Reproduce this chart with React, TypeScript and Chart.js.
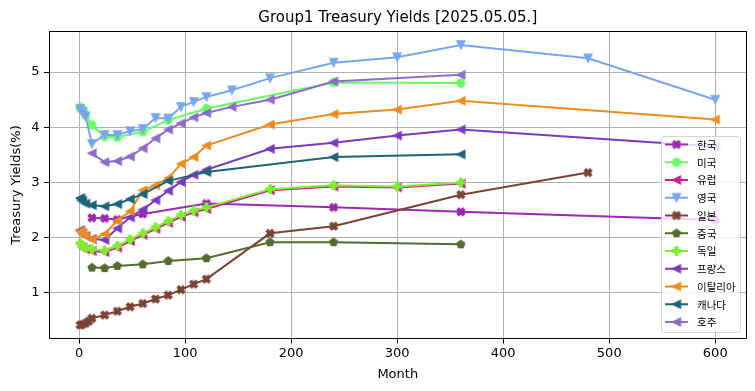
import React, { useEffect, useRef } from 'react';
import { Chart, registerables } from 'chart.js';

Chart.register(...registerables);

const TITLE = 'Group1 Treasury Yields [2025.05.05.]';
const X_LABEL = 'Month';
const Y_LABEL = 'Treasury Yields(%)';
const X_STEP = 100;
const Y_STEP = 1;

// 한국
const KR_M = [12, 24, 36, 60, 120, 240, 360, 600];
const KR_Y = [2.36, 2.35, 2.33, 2.43, 2.62, 2.55, 2.47, 2.32];
// 미국
const US_M = [1, 2, 3, 4, 6, 12, 24, 36, 60, 84, 120, 240, 360];
const US_Y = [4.36, 4.33, 4.32, 4.3, 4.22, 4.04, 3.83, 3.82, 3.92, 4.13, 4.34, 4.81, 4.8];
// 유럽
const EU_M = [3, 6, 12, 24, 36, 48, 60, 72, 84, 96, 108, 120, 180, 240, 300, 360];
const EU_Y = [1.83, 1.79, 1.76, 1.74, 1.82, 1.94, 2.05, 2.16, 2.27, 2.38, 2.46, 2.52, 2.86, 2.93, 2.91, 2.98];
// 영국
const UK_M = [1, 3, 6, 12, 24, 36, 48, 60, 72, 84, 96, 108, 120, 144, 180, 240, 300, 360, 480, 600];
const UK_Y = [4.33, 4.28, 4.2, 3.7, 3.86, 3.86, 3.93, 3.97, 4.17, 4.16, 4.37, 4.46, 4.55, 4.67, 4.89, 5.17, 5.27, 5.49, 5.25, 4.5];
// 일본
const JP_M = [1, 3, 6, 9, 12, 24, 36, 48, 60, 72, 84, 96, 108, 120, 180, 240, 360, 480];
const JP_Y = [0.42, 0.43, 0.45, 0.49, 0.54, 0.6, 0.67, 0.75, 0.81, 0.89, 0.96, 1.06, 1.16, 1.25, 2.08, 2.21, 2.78, 3.18];
// 중국
const CN_M = [12, 24, 36, 60, 84, 120, 180, 240, 360];
const CN_Y = [1.46, 1.45, 1.49, 1.52, 1.58, 1.63, 1.92, 1.92, 1.88];
// 독일
const DE_M = [1, 3, 6, 12, 24, 36, 48, 60, 72, 84, 96, 108, 120, 180, 240, 300, 360];
const DE_Y = [1.9, 1.86, 1.82, 1.79, 1.77, 1.85, 1.97, 2.08, 2.19, 2.3, 2.41, 2.49, 2.55, 2.88, 2.95, 2.93, 3.0];
// 프랑스
const FR_M = [1, 3, 6, 12, 24, 36, 48, 60, 72, 84, 96, 108, 120, 180, 240, 300, 360, 600];
const FR_Y = [2.14, 2.08, 2.03, 1.98, 1.96, 2.17, 2.37, 2.51, 2.68, 2.85, 3.01, 3.14, 3.23, 3.61, 3.72, 3.85, 3.96, 3.65];
// 이탈리아
const IT_M = [1, 3, 6, 12, 24, 36, 48, 60, 72, 84, 96, 108, 120, 180, 240, 300, 360, 600];
const IT_Y = [2.12, 2.08, 2.03, 1.97, 2.07, 2.31, 2.48, 2.86, 2.95, 3.08, 3.34, 3.46, 3.67, 4.05, 4.24, 4.32, 4.48, 4.14];
// 캐나다
const CA_M = [1, 2, 3, 6, 12, 24, 36, 48, 60, 84, 120, 240, 360];
const CA_Y = [2.72, 2.69, 2.66, 2.62, 2.59, 2.57, 2.61, 2.7, 2.79, 3.03, 3.19, 3.46, 3.51];
// 호주
const AU_M = [12, 24, 36, 48, 60, 72, 84, 96, 108, 120, 144, 180, 240, 360];
const AU_Y = [3.53, 3.37, 3.39, 3.47, 3.62, 3.8, 3.96, 4.07, 4.18, 4.26, 4.37, 4.5, 4.83, 4.95];

const NAMES = ['한국', '미국', '유럽', '영국', '일본', '중국', '독일', '프랑스', '이탈리아', '캐나다', '호주'];
const MONTHS = [KR_M, US_M, EU_M, UK_M, JP_M, CN_M, DE_M, FR_M, IT_M, CA_M, AU_M];
const YIELDS = [KR_Y, US_Y, EU_Y, UK_Y, JP_Y, CN_Y, DE_Y, FR_Y, IT_Y, CA_Y, AU_Y];
const COLORS = ['#9b2ab0', '#66ff66', '#c71f97', '#78a5ef', '#7c4335', '#556b2f', '#80ee30', '#7b3bbf', '#ec8c1c', '#1d6478', '#8e6cc9'];
const MARKERS = ['X', 'o', '<', 'v', 'X', 'p', 'P', '<', '<', '<', '<'];

const FONT = '"DejaVu Sans", sans-serif';
const CJK = '"Noto Sans CJK KR", "DejaVu Sans", sans-serif';
const MS = 8; // marker size px
const MEW = 1.3; // marker edge width

function makeMarker(shape: string, color: string): HTMLCanvasElement {
  const S = 16;
  const c = document.createElement('canvas');
  c.width = S;
  c.height = S;
  const ctx = c.getContext('2d')!;
  ctx.translate(S / 2, S / 2);
  ctx.fillStyle = color;
  ctx.strokeStyle = color;
  ctx.lineWidth = MEW;
  ctx.lineJoin = 'miter';
  const r = MS / 2;
  ctx.beginPath();
  const plus = [[-1, -3], [1, -3], [1, -1], [3, -1], [3, 1], [1, 1], [1, 3], [-1, 3], [-1, 1], [-3, 1], [-3, -1], [-1, -1]];
  if (shape === 'o') {
    ctx.arc(0, 0, r, 0, Math.PI * 2);
  } else if (shape === '<') {
    ctx.moveTo(-r, 0);
    ctx.lineTo(r, -r);
    ctx.lineTo(r, r);
    ctx.closePath();
  } else if (shape === 'v') {
    ctx.moveTo(0, r);
    ctx.lineTo(-r, -r);
    ctx.lineTo(r, -r);
    ctx.closePath();
  } else if (shape === 'P' || shape === 'X') {
    const a = shape === 'X' ? Math.PI / 4 : 0;
    plus.forEach(([px, py], i) => {
      const sx = (px / 6) * MS;
      const sy = (py / 6) * MS;
      const x = sx * Math.cos(a) - sy * Math.sin(a);
      const y = sx * Math.sin(a) + sy * Math.cos(a);
      if (i === 0) ctx.moveTo(x, y);
      else ctx.lineTo(x, y);
    });
    ctx.closePath();
  } else if (shape === 'p') {
    for (let i = 0; i < 5; i++) {
      const ang = -Math.PI / 2 + (i * 2 * Math.PI) / 5;
      const x = r * Math.cos(ang);
      const y = r * Math.sin(ang);
      if (i === 0) ctx.moveTo(x, y);
      else ctx.lineTo(x, y);
    }
    ctx.closePath();
  }
  ctx.fill();
  ctx.stroke();
  return c;
}

export default function App() {
  const ref = useRef<HTMLCanvasElement>(null);

  useEffect(() => {
    const canvas = ref.current!;
    const markers = MARKERS.map((m, i) => makeMarker(m, COLORS[i]));

    const allX = MONTHS.flat();
    const allY = YIELDS.flat();
    const xMin = Math.min(...allX), xMax = Math.max(...allX);
    const yMin = Math.min(...allY), yMax = Math.max(...allY);
    const xm = (xMax - xMin) * 0.05, ym = (yMax - yMin) * 0.05;

    const datasets = NAMES.map((name, i) => ({
      label: name,
      data: MONTHS[i].map((m, j) => ({ x: m, y: YIELDS[i][j] })),
      borderColor: COLORS[i],
      backgroundColor: COLORS[i],
      borderWidth: 2,
      pointStyle: markers[i] as any,
      pointRadius: 4,
      pointHoverRadius: 4,
      tension: 0,
      fill: false,
      order: -i,
    }));

    const framePlugin = {
      id: 'frame',
      afterDatasetsDraw(chart: any) {
        const { ctx, chartArea: a } = chart;
        ctx.save();
        ctx.strokeStyle = '#000';
        ctx.lineWidth = 1;
        const l = Math.round(a.left) + 0.5, t = Math.round(a.top) + 0.5;
        const r = Math.round(a.right) - 0.5, b = Math.round(a.bottom) - 0.5;
        ctx.strokeRect(l, t, r - l, b - t);
        ctx.restore();
      },
    };

    const overlayPlugin = {
      id: 'overlay',
      afterDraw(chart: any) {
        const { ctx, chartArea: a } = chart;
        ctx.save();
        // title
        ctx.fillStyle = '#000';
        ctx.font = `15px ${FONT}`;
        ctx.textAlign = 'center';
        ctx.textBaseline = 'alphabetic';
        ctx.fillText(TITLE, (a.left + a.right) / 2, 21.5);

        // legend
        const bx = 661.5, by = 136.5, bw = 79, bh = 196, rad = 2.5;
        ctx.beginPath();
        ctx.moveTo(bx + rad, by);
        ctx.lineTo(bx + bw - rad, by);
        ctx.arcTo(bx + bw, by, bx + bw, by + rad, rad);
        ctx.lineTo(bx + bw, by + bh - rad);
        ctx.arcTo(bx + bw, by + bh, bx + bw - rad, by + bh, rad);
        ctx.lineTo(bx + rad, by + bh);
        ctx.arcTo(bx, by + bh, bx, by + bh - rad, rad);
        ctx.lineTo(bx, by + rad);
        ctx.arcTo(bx, by, bx + rad, by, rad);
        ctx.closePath();
        ctx.fillStyle = 'rgba(255,255,255,0.8)';
        ctx.fill();
        ctx.strokeStyle = 'rgba(204,204,204,0.8)';
        ctx.lineWidth = 1;
        ctx.stroke();

        ctx.font = `10.5px ${CJK}`;
        ctx.textAlign = 'left';
        ctx.textBaseline = 'middle';
        NAMES.forEach((name, i) => {
          const y = 144.5 + i * 17.75;
          ctx.strokeStyle = COLORS[i];
          ctx.lineWidth = 2;
          ctx.beginPath();
          ctx.moveTo(665, y);
          ctx.lineTo(688, y);
          ctx.stroke();
          const mk = markers[i];
          ctx.drawImage(mk, 676.5 - mk.width / 2, y - mk.height / 2);
          ctx.fillStyle = '#000';
          ctx.fillText(name, 697, y + 0.5);
        });
        ctx.restore();
      },
    };

    const chart = new Chart(canvas, {
      type: 'line',
      data: { datasets },
      options: {
        animation: false,
        responsive: false,
        devicePixelRatio: 1,
        layout: { padding: { left: 0, right: 8, top: 31, bottom: 0 } },
        plugins: {
          legend: { display: false },
          title: { display: false },
          tooltip: { enabled: false },
        },
        events: [],
        scales: {
          x: {
            type: 'linear',
            min: xMin - xm,
            max: xMax + xm,
            border: { display: false },
            grid: { color: '#b0b0b0', lineWidth: 1, tickColor: '#000', tickLength: 4.5, drawTicks: true },
            ticks: { stepSize: X_STEP, includeBounds: false, color: '#000', font: { family: FONT, size: 13 }, padding: 2, maxRotation: 0, autoSkip: false },
            title: { display: true, text: X_LABEL, color: '#000', font: { family: FONT, size: 13 }, padding: { top: 0, bottom: 9 } },
            afterFit(scale: any) { scale.height = 52; },
          },
          y: {
            type: 'linear',
            min: yMin - ym,
            max: yMax + ym,
            border: { display: false },
            grid: { color: '#b0b0b0', lineWidth: 1, tickColor: '#000', tickLength: 4.5, drawTicks: true },
            ticks: { stepSize: Y_STEP, includeBounds: false, color: '#000', font: { family: FONT, size: 13 }, padding: 4.5 },
            title: { display: true, text: Y_LABEL, color: '#000', font: { family: FONT, size: 13 }, padding: { top: 9, bottom: 0 } },
            afterFit(scale: any) { scale.width = 48.5; },
          },
        },
      } as any,
      plugins: [framePlugin, overlayPlugin],
    });
    return () => chart.destroy();
  }, []);

  return (
    <div style={{ position: 'absolute', left: 0, top: 0, width: 755, height: 391, background: '#fff' }}>
      <canvas ref={ref} width={755} height={391} style={{ width: 755, height: 391, display: 'block' }} />
    </div>
  );
}
